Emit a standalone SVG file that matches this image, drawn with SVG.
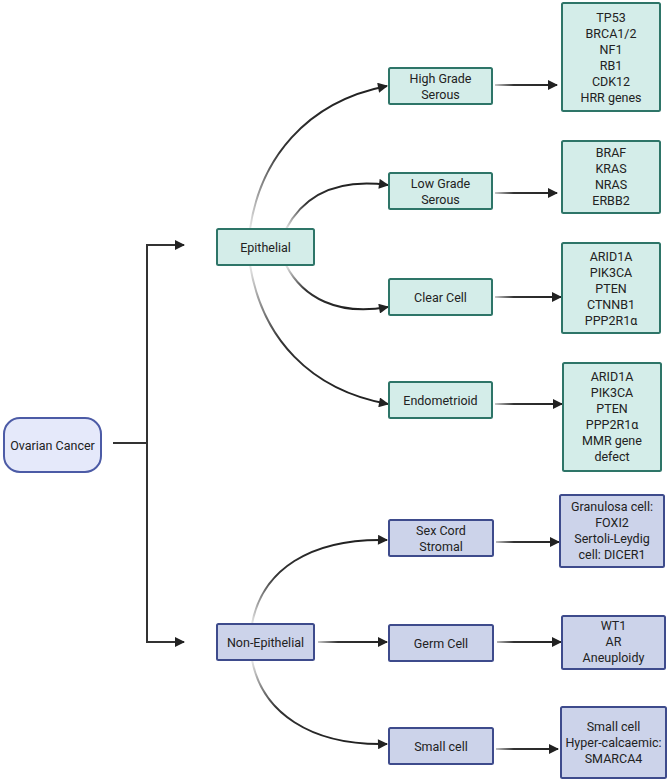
<svg xmlns="http://www.w3.org/2000/svg" width="669" height="782" viewBox="0 0 669 782">
<style>
.t{fill:#d4ede9;stroke:#2e7568;stroke-width:2}
.b{fill:#ccd3ea;stroke:#3e4b8c;stroke-width:2}
.oc{fill:#e5e9fa;stroke:#4c5ba6;stroke-width:2}
text{font-family:Roboto,"Liberation Sans",sans-serif;font-size:12.5px;fill:#222;text-anchor:middle}
.c{fill:none;stroke-width:2}
.s{fill:none;stroke:#333;stroke-width:2}
</style>
<defs>
<marker id="ah" viewBox="0 0 10 10" refX="9" refY="5" markerWidth="11" markerHeight="10" markerUnits="userSpaceOnUse" orient="auto">
<path d="M0,0 L10,5 L0,10 Z" fill="#222"/>
</marker>
<linearGradient id="gUp" x1="0" y1="1" x2="0.6" y2="0">
<stop offset="0" stop-color="#e8e8e8"/>
<stop offset="0.5" stop-color="#333"/>
<stop offset="1" stop-color="#222"/>
</linearGradient>
<linearGradient id="gDn" x1="0" y1="0" x2="0.6" y2="1">
<stop offset="0" stop-color="#e8e8e8"/>
<stop offset="0.5" stop-color="#333"/>
<stop offset="1" stop-color="#222"/>
</linearGradient>
<linearGradient id="gH1" gradientUnits="userSpaceOnUse" x1="494" y1="0" x2="560" y2="0">
<stop offset="0" stop-color="#cfcfcf"/>
<stop offset="0.3" stop-color="#333"/>
<stop offset="1" stop-color="#222"/>
</linearGradient>
<linearGradient id="gH2" gradientUnits="userSpaceOnUse" x1="317" y1="0" x2="387" y2="0">
<stop offset="0" stop-color="#cfcfcf"/>
<stop offset="0.3" stop-color="#333"/>
<stop offset="1" stop-color="#222"/>
</linearGradient>
</defs>
<rect width="669" height="782" fill="#fff"/>
<g id="connectors">
<path class="s" d="M113,443 H147"/>
<path class="s" d="M147,245 V642"/>
<path class="s" d="M146,245 H184" marker-end="url(#ah)"/>
<path class="s" d="M146,642 H184" marker-end="url(#ah)"/>
<path class="c" stroke="url(#gUp)" d="M250,229 C260,160 305,102 387,86" marker-end="url(#ah)"/>
<path class="c" stroke="url(#gUp)" d="M286,229 C303,197 335,178 388,185" marker-end="url(#ah)"/>
<path class="c" stroke="url(#gDn)" d="M286,265 C303,298 338,316 388,307" marker-end="url(#ah)"/>
<path class="c" stroke="url(#gDn)" d="M250,265 C262,338 310,390 388,404" marker-end="url(#ah)"/>
<path class="c" stroke="url(#gUp)" d="M252,624 C262,570 310,538 387,540" marker-end="url(#ah)"/>
<path class="c" stroke="url(#gDn)" d="M252,660 C262,712 310,746 387,744" marker-end="url(#ah)"/>
<path class="c" stroke="url(#gH2)" d="M318,642 H387" marker-end="url(#ah)"/>
<path class="c" stroke="url(#gH1)" d="M495,85 H557" marker-end="url(#ah)"/>
<path class="c" stroke="url(#gH1)" d="M495,193 H557" marker-end="url(#ah)"/>
<path class="c" stroke="url(#gH1)" d="M495,297 H561" marker-end="url(#ah)"/>
<path class="c" stroke="url(#gH1)" d="M495,404 H562" marker-end="url(#ah)"/>
<path class="c" stroke="url(#gH1)" d="M496,542 H559" marker-end="url(#ah)"/>
<path class="c" stroke="url(#gH1)" d="M497,642 H561" marker-end="url(#ah)"/>
<path class="c" stroke="url(#gH1)" d="M496,749 H558" marker-end="url(#ah)"/>
</g>
<g id="ovarian-cancer"><rect class="oc" x="4" y="418" width="97" height="54" rx="16"/><text x="52.5" y="449.5">Ovarian Cancer</text></g>
<g id="epithelial"><rect class="t" x="217" y="229" width="97" height="36" rx="1.5"/><text x="265.5" y="251.5">Epithelial</text></g>
<g id="non-epithelial"><rect class="b" x="217" y="624" width="97" height="36" rx="1.5"/><text x="265.5" y="646.5">Non-Epithelial</text></g>
<g id="high-grade-serous"><rect class="t" x="389" y="68" width="103" height="36" rx="1.5"/><text x="440.5" y="83">High Grade</text><text x="440.5" y="98.5">Serous</text></g>
<g id="low-grade-serous"><rect class="t" x="389" y="173" width="103" height="36" rx="1.5"/><text x="440.5" y="188">Low Grade</text><text x="440.5" y="203.5">Serous</text></g>
<g id="clear-cell"><rect class="t" x="389" y="279" width="103" height="36" rx="1.5"/><text x="440.5" y="301.5">Clear Cell</text></g>
<g id="endometrioid"><rect class="t" x="389" y="382" width="103" height="36" rx="1.5"/><text x="440.5" y="404.5">Endometrioid</text></g>
<g id="sex-cord-stromal"><rect class="b" x="389" y="520" width="104" height="36" rx="1.5"/><text x="441" y="535">Sex Cord</text><text x="441" y="550.5">Stromal</text></g>
<g id="germ-cell"><rect class="b" x="389" y="625" width="104" height="36" rx="1.5"/><text x="441" y="647.5">Germ Cell</text></g>
<g id="small-cell"><rect class="b" x="389" y="728" width="104" height="36" rx="1.5"/><text x="441" y="750.5">Small cell</text></g>
<g id="hgs-genes"><rect class="t" x="562" y="3" width="98" height="108" rx="1.5"/>
<text x="611" y="21.5">TP53</text><text x="611" y="37.5">BRCA1/2</text><text x="611" y="53.5">NF1</text><text x="611" y="69.5">RB1</text><text x="611" y="85.5">CDK12</text><text x="611" y="101.5">HRR genes</text></g>
<g id="lgs-genes"><rect class="t" x="562" y="141" width="98" height="72" rx="1.5"/>
<text x="611" y="157">BRAF</text><text x="611" y="173">KRAS</text><text x="611" y="189">NRAS</text><text x="611" y="205">ERBB2</text></g>
<g id="cc-genes"><rect class="t" x="562" y="243" width="98" height="90" rx="1.5"/>
<text x="611" y="261">ARID1A</text><text x="611" y="277">PIK3CA</text><text x="611" y="293">PTEN</text><text x="611" y="309">CTNNB1</text><text x="611" y="325">PPP2R1α</text></g>
<g id="endo-genes"><rect class="t" x="563" y="363" width="98" height="108" rx="1.5"/>
<text x="612" y="381">ARID1A</text><text x="612" y="397">PIK3CA</text><text x="612" y="413">PTEN</text><text x="612" y="429">PPP2R1α</text><text x="612" y="445">MMR gene</text><text x="612" y="461">defect</text></g>
<g id="scs-genes"><rect class="b" x="560" y="495" width="104" height="72" rx="1.5"/>
<text x="612" y="511">Granulosa cell:</text><text x="612" y="527">FOXI2</text><text x="612" y="543">Sertoli-Leydig</text><text x="612" y="559">cell: DICER1</text></g>
<g id="gc-genes"><rect class="b" x="562" y="616" width="103" height="53" rx="1.5"/>
<text x="613.5" y="630">WT1</text><text x="613.5" y="646">AR</text><text x="613.5" y="662">Aneuploidy</text></g>
<g id="sc-genes"><rect class="b" x="561" y="707" width="105" height="71" rx="1.5"/>
<text x="613.5" y="731">Small cell</text><text x="613.5" y="747">Hyper-calcaemic:</text><text x="613.5" y="763">SMARCA4</text></g>
</svg>
